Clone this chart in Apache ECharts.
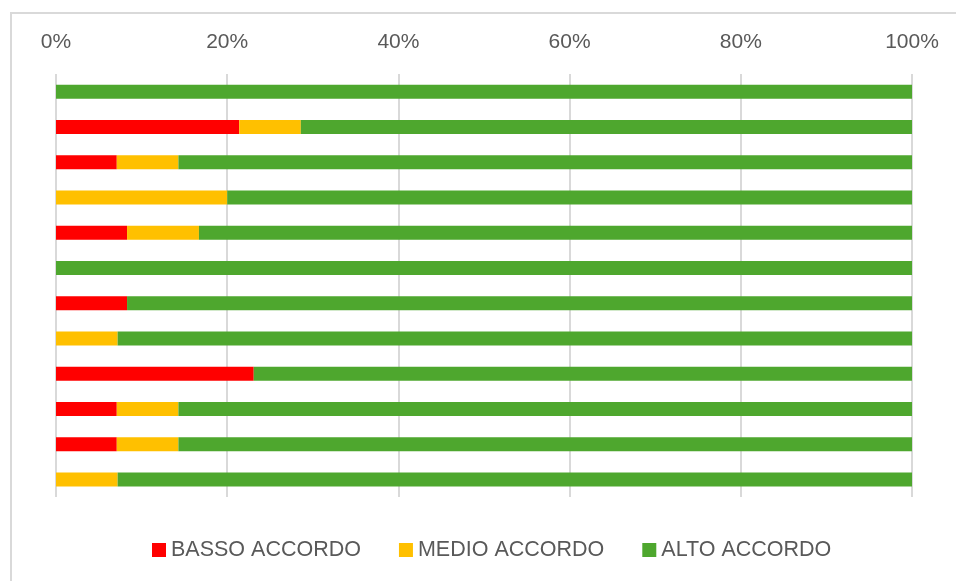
<!DOCTYPE html>
<html>
<head>
<meta charset="utf-8">
<script src="https://cdn.jsdelivr.net/npm/echarts@6/dist/echarts.min.js"></script>
<style>
  html, body { margin: 0; padding: 0; background: #fff; }
  #frame { position: absolute; left: 10px; top: 12px; width: 960px; height: 600px;
           border-left: 2px solid #d9d9d9; border-top: 2px solid #d9d9d9; }
  #chart { position: absolute; left: 0; top: 0; width: 956px; height: 581px; }
</style>
</head>
<body>
<div id="frame"></div>
<div id="chart"></div>
<script>
// righe dall'alto verso il basso, valori in %
var righe = ['1','2','3','4','5','6','7','8','9','10','11','12'];
var basso = [0, 21.4, 7.1, 0, 8.3, 0, 8.3, 0, 23.1, 7.1, 7.1, 0];
var medio = [0, 7.2, 7.2, 20, 8.4, 0, 0, 7.2, 0, 7.2, 7.2, 7.2];
var alto  = [100, 71.4, 85.7, 80, 83.3, 100, 91.7, 92.8, 76.9, 85.7, 85.7, 92.8];
var tickPct = ['0%','20%','40%','60%','80%','100%'];

var myChart = echarts.init(document.getElementById('chart'));

var font = 'Liberation Sans';

var option = {
    animation: false,
    textStyle: { fontFamily: font },
    grid: {
        left: 56,
        right: 44,
        top: 74,
        bottom: 84
    },
    //legenda in basso
    legend: {
        top: 534,
        left: 147,
        itemWidth: 14,
        itemHeight: 14,
        itemGap: 38,
        icon: 'rect',
        textStyle: { fontSize: 21.5, color: '#595959', fontFamily: font },
        data: ['BASSO ACCORDO', 'MEDIO ACCORDO', 'ALTO ACCORDO']
    },
    xAxis: {
        type: 'value',
        position: 'top',
        min: 0,
        max: 100,
        interval: 20,
        axisLine: { show: false },
        axisTick: { show: false },
        axisLabel: {
            fontSize: 21,
            color: '#595959',
            margin: 21,
            formatter: function (v) { return tickPct[v / 20]; }
        },
        splitLine: { lineStyle: { color: '#d9d9d9', width: 2 } }
    },
    yAxis: {
        type: 'category',
        inverse: true,
        data: righe,
        axisLine: { show: false },
        axisTick: { show: false },
        axisLabel: { show: false }
    },
    series: [
        {
            name: 'BASSO ACCORDO',
            type: 'bar',
            stack: 'tot',
            barWidth: 14,
            color: '#ff0000',
            data: basso
        },
        {
            name: 'MEDIO ACCORDO',
            type: 'bar',
            stack: 'tot',
            barWidth: 14,
            color: '#ffc000',
            data: medio
        },
        {
            name: 'ALTO ACCORDO',
            type: 'bar',
            stack: 'tot',
            barWidth: 14,
            color: '#4ea72e',
            data: alto
        }
    ]
};

myChart.setOption(option);
</script>
</body>
</html>
